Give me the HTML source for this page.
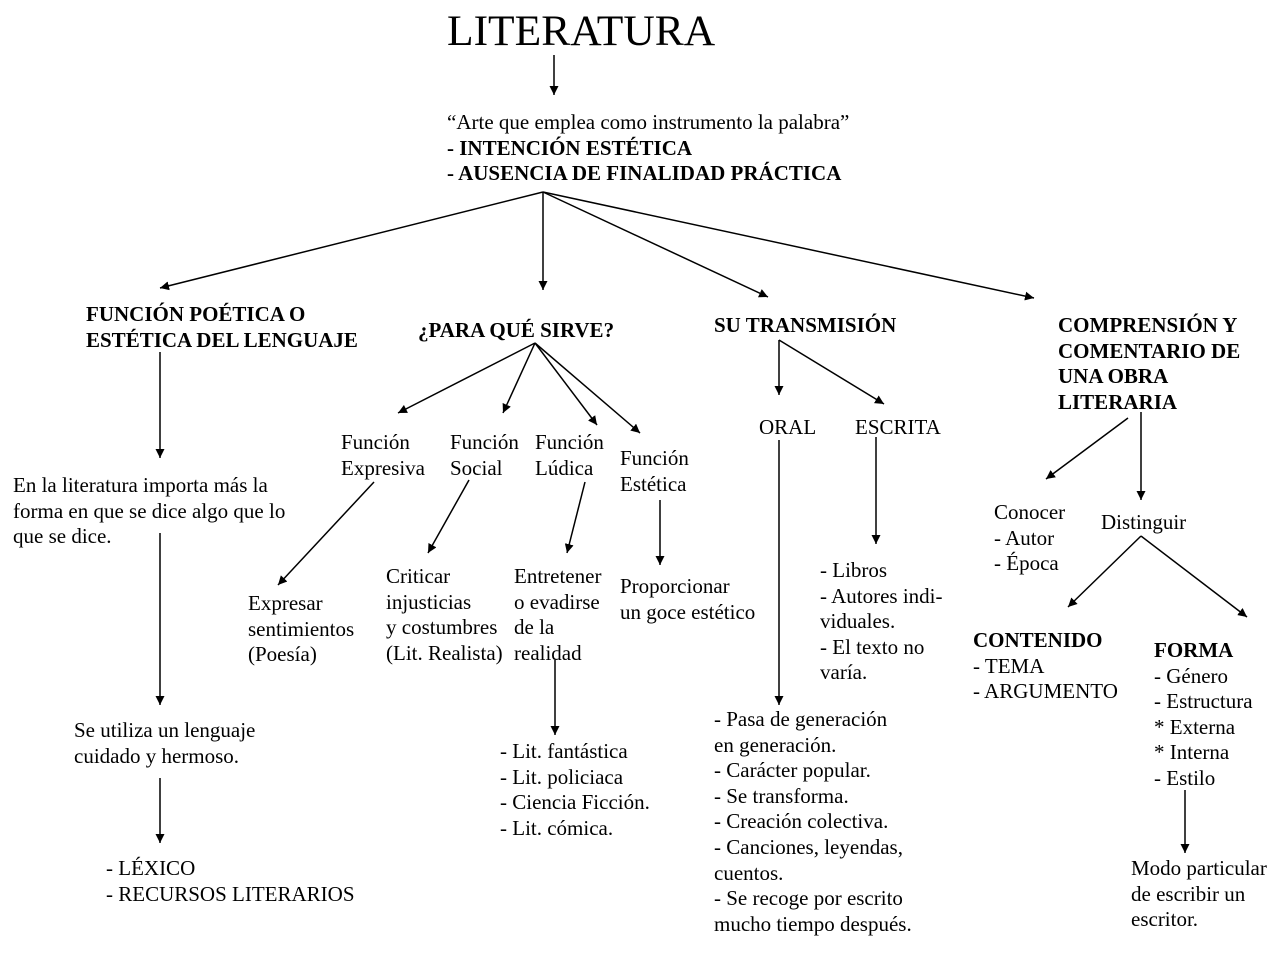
<!DOCTYPE html>
<html><head><meta charset="utf-8"><style>
body{margin:0;width:1280px;height:960px;background:#fff;position:relative;overflow:hidden;font-family:"Liberation Serif",serif;font-size:21px;color:#000}
.t{position:absolute;line-height:25.6px;white-space:nowrap}
b{font-weight:bold}
svg{position:absolute;left:0;top:0}
</style></head><body>
<svg width="1280" height="960">
<defs><marker id="a" viewBox="0 0 10 10" refX="10" refY="5" markerWidth="9" markerHeight="9" markerUnits="userSpaceOnUse" orient="auto"><path d="M0,0L10,5L0,10z" fill="#000"/></marker></defs>
<g stroke="#000" stroke-width="1.5" marker-end="url(#a)">
<line x1="554" y1="55" x2="554" y2="95"/>
<line x1="543" y1="192" x2="160" y2="288"/>
<line x1="543" y1="192" x2="543" y2="290"/>
<line x1="543" y1="192" x2="768" y2="297"/>
<line x1="543" y1="192" x2="1034" y2="298"/>
<line x1="160" y1="352" x2="160" y2="458"/>
<line x1="160" y1="533" x2="160" y2="705"/>
<line x1="160" y1="778" x2="160" y2="843"/>
<line x1="535" y1="343" x2="398" y2="413"/>
<line x1="535" y1="343" x2="503" y2="413"/>
<line x1="535" y1="343" x2="597" y2="425"/>
<line x1="535" y1="343" x2="640" y2="433"/>
<line x1="374" y1="482" x2="278" y2="585"/>
<line x1="469" y1="480" x2="428" y2="553"/>
<line x1="585" y1="482" x2="567" y2="553"/>
<line x1="660" y1="500" x2="660" y2="565"/>
<line x1="555" y1="660" x2="555" y2="735"/>
<line x1="779" y1="340" x2="779" y2="395"/>
<line x1="779" y1="340" x2="884" y2="404"/>
<line x1="779" y1="440" x2="779" y2="705"/>
<line x1="876" y1="437" x2="876" y2="544"/>
<line x1="1128" y1="418" x2="1046" y2="479"/>
<line x1="1141" y1="412" x2="1141" y2="500"/>
<line x1="1141" y1="536" x2="1068" y2="607"/>
<line x1="1141" y1="536" x2="1247" y2="617"/>
<line x1="1185" y1="790" x2="1185" y2="853"/>
</g></svg>
<div class="t" style="left:447px;top:7px;font-size:43.5px;line-height:48px">LITERATURA</div>
<div class="t" style="left:447px;top:110px">“Arte que emplea como instrumento la palabra”<br><b>- INTENCIÓN ESTÉTICA</b><br><b>- AUSENCIA DE FINALIDAD PRÁCTICA</b></div>
<div class="t" style="left:86px;top:302px"><b>FUNCIÓN POÉTICA O<br>ESTÉTICA DEL LENGUAJE</b></div>
<div class="t" style="left:418px;top:318px"><b>¿PARA QUÉ SIRVE?</b></div>
<div class="t" style="left:714px;top:313px"><b>SU TRANSMISIÓN</b></div>
<div class="t" style="left:1058px;top:313px"><b>COMPRENSIÓN Y<br>COMENTARIO DE<br>UNA OBRA<br>LITERARIA</b></div>
<div class="t" style="left:341px;top:430px">Función<br>Expresiva</div>
<div class="t" style="left:450px;top:430px">Función<br>Social</div>
<div class="t" style="left:535px;top:430px">Función<br>Lúdica</div>
<div class="t" style="left:620px;top:446px">Función<br>Estética</div>
<div class="t" style="left:759px;top:415px">ORAL</div>
<div class="t" style="left:855px;top:415px">ESCRITA</div>
<div class="t" style="left:13px;top:473px">En la literatura importa más la<br>forma en que se dice algo que lo<br>que se dice.</div>
<div class="t" style="left:248px;top:591px">Expresar<br>sentimientos<br>(Poesía)</div>
<div class="t" style="left:386px;top:564px">Criticar<br>injusticias<br>y costumbres<br>(Lit. Realista)</div>
<div class="t" style="left:514px;top:564px">Entretener<br>o evadirse<br>de la<br>realidad</div>
<div class="t" style="left:620px;top:574px">Proporcionar<br>un goce estético</div>
<div class="t" style="left:820px;top:558px">- Libros<br>- Autores indi-<br>viduales.<br>- El texto no<br>varía.</div>
<div class="t" style="left:994px;top:500px">Conocer<br>- Autor<br>- Época</div>
<div class="t" style="left:1101px;top:510px">Distinguir</div>
<div class="t" style="left:973px;top:628px"><b>CONTENIDO</b><br>- TEMA<br>- ARGUMENTO</div>
<div class="t" style="left:1154px;top:638px"><b>FORMA</b><br>- Género<br>- Estructura<br>* Externa<br>* Interna<br>- Estilo</div>
<div class="t" style="left:1131px;top:856px">Modo particular<br>de escribir un<br>escritor.</div>
<div class="t" style="left:74px;top:718px">Se utiliza un lenguaje<br>cuidado y hermoso.</div>
<div class="t" style="left:106px;top:856px">- LÉXICO<br>- RECURSOS LITERARIOS</div>
<div class="t" style="left:500px;top:739px">- Lit. fantástica<br>- Lit. policiaca<br>- Ciencia Ficción.<br>- Lit. cómica.</div>
<div class="t" style="left:714px;top:707px">- Pasa de generación<br>en generación.<br>- Carácter popular.<br>- Se transforma.<br>- Creación colectiva.<br>- Canciones, leyendas,<br>cuentos.<br>- Se recoge por escrito<br>mucho tiempo después.</div>
</body></html>
